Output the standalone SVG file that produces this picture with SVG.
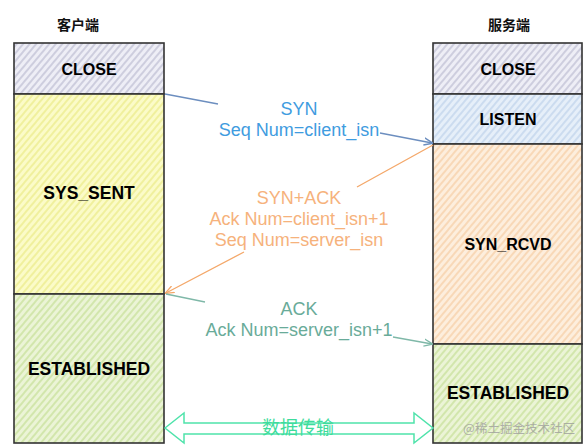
<svg xmlns="http://www.w3.org/2000/svg" width="583" height="446" viewBox="0 0 583 446">
<style>
.box{stroke:#333;stroke-width:1.6}
.lbl{font-family:"Liberation Sans",Arial,sans-serif;font-weight:bold;text-anchor:middle;fill:#000}
.hdr{font-family:"Noto Sans CJK SC","Liberation Sans",sans-serif;font-size:14px;font-weight:bold;text-anchor:middle;fill:#111}
.msg{font-family:"Liberation Sans",Arial,sans-serif;font-size:18px;text-anchor:middle}
.ln{fill:none;stroke-width:1.3}
</style>
<defs>
<pattern id="pClose" patternUnits="userSpaceOnUse" width="5" height="5" patternTransform="rotate(40)"><rect width="5" height="5" fill="#eeeef6"/><line x1="1" y1="0" x2="1" y2="5" stroke="#b3b3cb" stroke-width="1.1"/></pattern>
<pattern id="pSent" patternUnits="userSpaceOnUse" width="5" height="5" patternTransform="rotate(40)"><rect width="5" height="5" fill="#fbfbc8"/><line x1="1" y1="0" x2="1" y2="5" stroke="#e8e87a" stroke-width="1.1"/></pattern>
<pattern id="pEst" patternUnits="userSpaceOnUse" width="5" height="5" patternTransform="rotate(40)"><rect width="5" height="5" fill="#ebf4d6"/><line x1="1" y1="0" x2="1" y2="5" stroke="#bedb8a" stroke-width="1.1"/></pattern>
<pattern id="pListen" patternUnits="userSpaceOnUse" width="5" height="5" patternTransform="rotate(40)"><rect width="5" height="5" fill="#e6eff9"/><line x1="1" y1="0" x2="1" y2="5" stroke="#b6cce8" stroke-width="1.1"/></pattern>
<pattern id="pRcvd" patternUnits="userSpaceOnUse" width="5" height="5" patternTransform="rotate(40)"><rect width="5" height="5" fill="#fdeedd"/><line x1="1" y1="0" x2="1" y2="5" stroke="#f4c698" stroke-width="1.1"/></pattern>
<marker id="aBlue" viewBox="0 0 10 10" refX="9" refY="5" markerWidth="9" markerHeight="9" markerUnits="userSpaceOnUse" orient="auto"><path d="M0,1 L10,5 L0,9" fill="none" stroke="#6c8ebf" stroke-width="1.5"/></marker>
<marker id="aOrange" viewBox="0 0 10 10" refX="9" refY="5" markerWidth="9" markerHeight="9" markerUnits="userSpaceOnUse" orient="auto"><path d="M0,1 L10,5 L0,9" fill="none" stroke="#f4a86a" stroke-width="1.5"/></marker>
<marker id="aTeal" viewBox="0 0 10 10" refX="9" refY="5" markerWidth="9" markerHeight="9" markerUnits="userSpaceOnUse" orient="auto"><path d="M0,1 L10,5 L0,9" fill="none" stroke="#7fb8a8" stroke-width="1.5"/></marker>
</defs>
<rect width="583" height="446" fill="#fff"/>
<text class="hdr" x="78" y="30">客户端</text>
<text class="hdr" x="509" y="30">服务端</text>

<g id="client-close"><rect class="box" x="14" y="43" width="150" height="51" fill="url(#pClose)"/><text class="lbl" x="89" y="75" font-size="16">CLOSE</text></g>
<g id="client-syssent"><rect class="box" x="14" y="94" width="150" height="200" fill="url(#pSent)"/><text class="lbl" x="89" y="199" font-size="17.5">SYS_SENT</text></g>
<g id="client-established"><rect class="box" x="14" y="294" width="150" height="149" fill="url(#pEst)"/><text class="lbl" x="89" y="375" font-size="17.5">ESTABLISHED</text></g>

<g id="server-close"><rect class="box" x="433" y="43" width="149" height="51" fill="url(#pClose)"/><text class="lbl" x="508" y="75" font-size="16">CLOSE</text></g>
<g id="server-listen"><rect class="box" x="433" y="94" width="149" height="50" fill="url(#pListen)"/><text class="lbl" x="508" y="125" font-size="16">LISTEN</text></g>
<g id="server-synrcvd"><rect class="box" x="433" y="144" width="149" height="200" fill="url(#pRcvd)" stroke="#a8782e"/><text class="lbl" x="508" y="250" font-size="16">SYN_RCVD</text></g>
<g id="server-established"><rect class="box" x="433" y="344" width="149" height="99" fill="url(#pEst)"/><text class="lbl" x="508" y="399" font-size="17.5">ESTABLISHED</text></g>

<g id="connectors">
<path class="ln" d="M165,94 L218,104 M380,133 L432,143" stroke="#6c8ebf" marker-end="url(#aBlue)"/>
<path class="ln" d="M433,145 L357,187 M244,252 L166,293" stroke="#f4a86a" marker-end="url(#aOrange)"/>
<path class="ln" d="M166,294 L205,302 M393,337 L432,344" stroke="#7fb8a8" marker-end="url(#aTeal)"/>
<path d="M165,428 L184,413 L184,423 L414,423 L414,413 L433,428 L414,443 L414,434 L184,434 L184,443 Z" fill="none" stroke="#4fe3ab" stroke-width="1.5"/>
</g>

<g id="labels">
<text class="msg" x="299" y="115" fill="#3f9ce0">SYN</text>
<text class="msg" x="299" y="136" fill="#3f9ce0">Seq Num=client_isn</text>
<text class="msg" x="299" y="204" fill="#f6b27c">SYN+ACK</text>
<text class="msg" x="299" y="225" fill="#f6b27c">Ack Num=client_isn+1</text>
<text class="msg" x="299" y="246" fill="#f6b27c">Seq Num=server_isn</text>
<text class="msg" x="299" y="315" fill="#69ab99">ACK</text>
<text class="msg" x="299" y="336" fill="#69ab99">Ack Num=server_isn+1</text>
<text x="298" y="434" font-family="Noto Sans CJK SC,sans-serif" font-size="18" text-anchor="middle" fill="#3edc9c">数据传输</text>
</g>
<text x="519" y="433" font-family="Noto Sans CJK SC,sans-serif" font-size="12.5" text-anchor="middle" fill="#9a9a9a" opacity="0.75">@稀土掘金技术社区</text>
</svg>
